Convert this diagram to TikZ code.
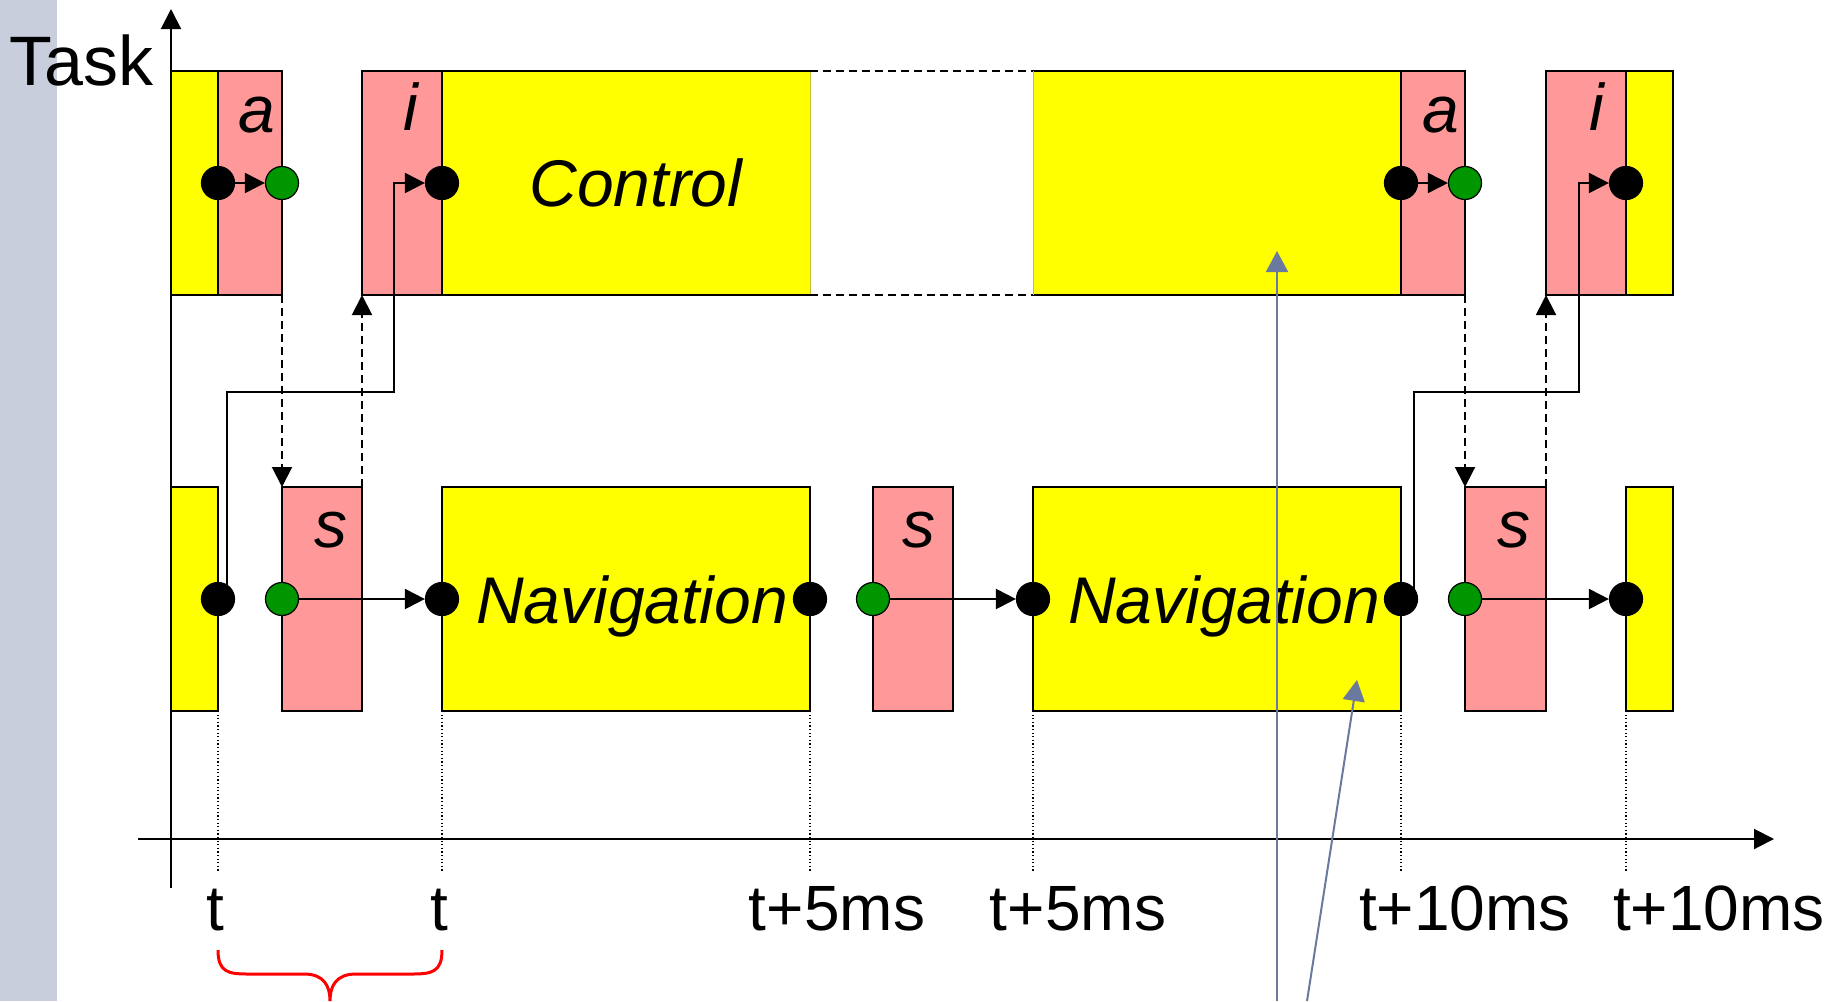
\documentclass[tikz,border=0pt]{standalone}
\usepackage{fontspec}
\setmainfont{Liberation Sans}
\usepackage{xcolor}
\usepackage{tikz}
\usetikzlibrary{arrows.meta,positioning,calc}
\definecolor{runyellow}{RGB}{255,255,0}
\definecolor{swpink}{RGB}{255,153,153}
\definecolor{readygreen}{RGB}{0,150,0}
\definecolor{sidegray}{RGB}{200,206,220}
\definecolor{pointblue}{RGB}{106,121,158}

\begin{document}
\begin{tikzpicture}[
  x=0.5pt, y=-0.5pt,
  font=\fontsize{32}{38}\selectfont,
  slot/.style={draw=black, line width=1pt, inner sep=0pt, outer sep=0pt, minimum height=112pt},
  runbox/.style={slot, fill=runyellow},
  swbox/.style={slot, fill=swpink},
  ctrlfill/.style={fill=runyellow, inner sep=0pt, outer sep=0pt, minimum height=112pt},
  evdot/.style={circle, draw=black, line width=0.6pt, minimum size=16.5pt, inner sep=0pt},
  blackdot/.style={evdot, fill=black},
  greendot/.style={evdot, fill=readygreen},
  rim/.style={line width=1pt},
  arr/.style={-{Triangle[length=10pt,width=10pt]}, line width=1pt},
  dasharr/.style={arr, dash pattern=on 4pt off 2.5pt},
  gapline/.style={line width=1pt, dash pattern=on 4pt off 2.5pt},
  guide/.style={line width=0.6pt, dash pattern=on 0.6pt off 1.2pt},
  tasklbl/.style={font=\fontsize{33}{39}\selectfont\itshape, anchor=base, inner sep=0pt},
  timelbl/.style={anchor=base, inner sep=0pt},
  ptr/.style={-{Triangle[length=10.5pt,width=11pt]}, line width=1pt, draw=pointblue, fill=pointblue},
  brace/.style={draw=red, line width=1.5pt}
]
\useasboundingbox (0,0) rectangle (1845,1001);
\fill[sidegray] (0,0) rectangle (57,1001);

% axes
\coordinate (ybot) at (171,888);
\coordinate (ytop) at (171,9);
\coordinate (xleft) at (138,839);
\coordinate (xright) at (1774,839);
\draw[arr] (ybot) -- (ytop);
\draw[arr] (xleft) -- (xright);
\node[anchor=base, inner sep=0pt, font=\fontsize{35}{42}\selectfont] (task) at (81,85) {Task};

% control task row
\node[runbox, minimum width=23.5pt, anchor=north west] (cy0) at (171,71) {};
\node[swbox, minimum width=32pt, right=0pt of cy0] (ca1) {};
\node[swbox, minimum width=40pt, right=40pt of ca1] (ci1) {};
\node[ctrlfill, minimum width=184pt, right=0pt of ci1] (cc1) {};
\node[ctrlfill, minimum width=184pt, right=111.5pt of cc1] (cc2) {};
\node[swbox, minimum width=32pt, right=0pt of cc2] (ca2) {};
\node[swbox, minimum width=40pt, right=40.5pt of ca2] (ci2) {};
\node[runbox, minimum width=23.5pt, right=0pt of ci2] (cy2) {};
\draw[rim] (cc1.north east) -- (cc1.north west) -- (cc1.south west) -- (cc1.south east);
\draw[rim] (cc2.north west) -- (cc2.north east) -- (cc2.south east) -- (cc2.south west);
\draw[yellow!75!black, line width=0.4pt] (cc1.north east) -- (cc1.south east);
\draw[yellow!75!black, line width=0.4pt] (cc2.north west) -- (cc2.south west);
\draw[gapline] (cc1.north east) -- (cc2.north west);
\draw[gapline] (cc1.south east) -- (cc2.south west);

% navigation task row
\node[runbox, minimum width=23.5pt, anchor=north west] (ny0) at (171,487) {};
\node[swbox, minimum width=40pt, anchor=north west] (ns1) at (282,487) {};
\node[runbox, minimum width=184pt, right=40pt of ns1] (nn1) {};
\node[swbox, minimum width=40pt, right=31.5pt of nn1] (ns2) {};
\node[runbox, minimum width=184pt, right=40pt of ns2] (nn2) {};
\node[swbox, minimum width=40.5pt, right=32pt of nn2] (ns3) {};
\node[runbox, minimum width=23.5pt, right=40pt of ns3] (ny3) {};

\node[tasklbl] (la1) at (257,132) {a};
\node[tasklbl] (li1) at (411,130) {i};
\node[tasklbl] (lctl) at (636,206) {Control};
\node[tasklbl] (la2) at (1441,132) {a};
\node[tasklbl] (li2) at (1597,130) {i};
\node[tasklbl] (ls1) at (331,547) {s};
\node[tasklbl] (lnav1) at (632,623) {Navigation};
\node[tasklbl] (ls2) at (919,547) {s};
\node[tasklbl] (lnav2) at (1224,623) {Navigation};
\node[tasklbl] (ls3) at (1514,547) {s};

% events
\node[blackdot] (k1) at (cy0.east) {};
\node[greendot] (g1) at (ca1.east) {};
\node[blackdot] (k2) at (ci1.east) {};
\node[blackdot] (k3) at (cc2.east) {};
\node[greendot] (g2) at (ca2.east) {};
\node[blackdot] (k4) at (ci2.east) {};
\node[blackdot] (m1) at (ny0.east) {};
\node[greendot] (h1) at (ns1.west) {};
\node[blackdot] (m2) at (nn1.west) {};
\node[blackdot] (m3) at (nn1.east) {};
\node[greendot] (h2) at (ns2.west) {};
\node[blackdot] (m4) at (nn2.west) {};
\node[blackdot] (m5) at (nn2.east) {};
\node[greendot] (h3) at (ns3.west) {};
\node[blackdot] (m6) at (ny3.west) {};

\draw[arr] (k1) -- (g1);
\draw[arr] (k3) -- (g2);
\draw[arr] (h1) -- (m2);
\draw[arr] (h2) -- (m4);
\draw[arr] (h3) -- (m6);
\draw[dasharr] (ca1.south east) -- (ns1.north west);
\draw[dasharr] (ns1.north east) -- (ci1.south west);
\draw[dasharr] (ca2.south east) -- (ns3.north west);
\draw[dasharr] (ns3.north east) -- (ci2.south west);
\coordinate (jog1) at (394,392);
\coordinate (jog2) at (1579,392);
\draw[arr] ($(m1.center)+(9,-14)$) |- (jog1) |- (k2);
\draw[arr] ($(m5.center)+(13,-10)$) |- (jog2) |- (k4);

% time marks
\coordinate (gbase) at (0,872);
\draw[guide] (ny0.south east) -- (ny0.south east |- gbase);
\draw[guide] (nn1.south west) -- (nn1.south west |- gbase);
\draw[guide] (nn1.south east) -- (nn1.south east |- gbase);
\draw[guide] (nn2.south west) -- (nn2.south west |- gbase);
\draw[guide] (nn2.south east) -- (nn2.south east |- gbase);
\draw[guide] (ny3.south west) -- (ny3.south west |- gbase);
\node[timelbl] (t0) at (215,930) {t};
\node[timelbl] (t1) at (439,930) {t};
\node[timelbl] (t5a) at (837,930) {t+5ms};
\node[timelbl] (t5b) at (1078,930) {t+5ms};
\node[timelbl] (t10a) at (1465,930) {t+10ms};
\node[timelbl] (t10b) at (1719,930) {t+10ms};

% pointers and brace
\coordinate (p1s) at (1277,1001);
\coordinate (p1e) at (1277,251);
\coordinate (p2s) at (1307,1001);
\coordinate (p2e) at (1357,680);
\draw[ptr] (p1s) -- (p1e);
\draw[ptr] (p2s) -- (p2e);
\coordinate (brL) at (218,950);
\coordinate (brR) at (442,950);
\coordinate (brM) at (330,1001);
\draw[brace] (brL) .. controls +(0,22) and +(-20,0) .. (248,974) -- (304,974)
  .. controls +(20,0) and +(0,-15) .. (brM)
  .. controls +(0,-15) and +(-20,0) .. (356,974) -- (412,974)
  .. controls +(20,0) and +(0,22) .. (brR);
\end{tikzpicture}
\end{document}
